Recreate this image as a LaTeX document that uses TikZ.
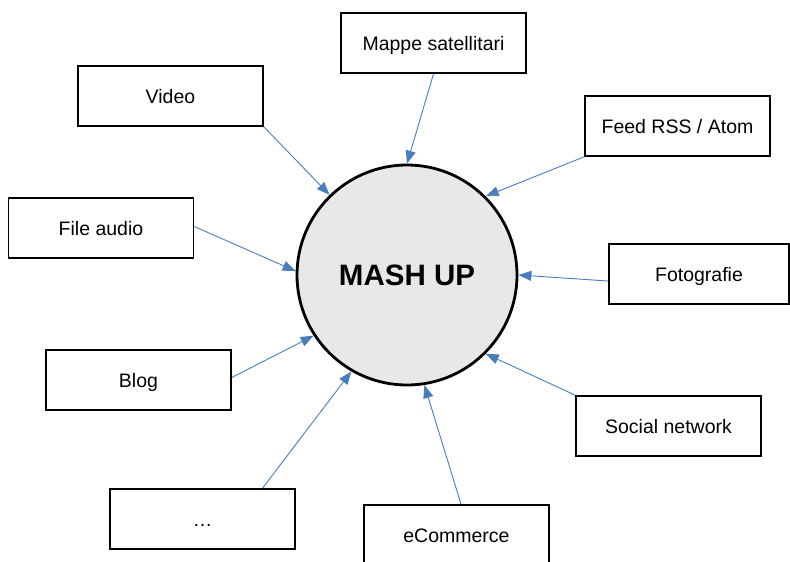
\documentclass[tikz,border=0pt]{standalone}
\usepackage{fontspec}
\setmainfont{Liberation Sans}
\usetikzlibrary{arrows.meta,calc}
\definecolor{arrowblue}{HTML}{4A7EBB}
\definecolor{hubfill}{HTML}{E8E8E8}
\tikzset{
  source/.style={draw=black, line width=1.6pt, fill=white, rectangle,
    minimum width=185pt, minimum height=60pt, inner sep=0pt,
    font=\fontsize{19.5}{23}\selectfont, text height=14pt, text depth=0pt},
  hub/.style={draw=black, line width=2.8pt, fill=hubfill, circle,
    minimum size=220pt, inner sep=0pt,
    font=\fontsize{29.5}{34}\selectfont\bfseries, text height=21pt, text depth=0pt},
  feed/.style={draw=arrowblue, line width=0.9pt,
    -{Triangle[length=13pt,width=10pt]}},
}
\begin{document}
\begin{tikzpicture}[x=1pt, y=-1pt]
  \useasboundingbox (0,0) rectangle (790,562);

  % central hub
  \node[hub] (mash) at (407,275) {MASH UP};

  % sources around the hub
  \node[source] (mappe)  at (433.5,43)  {Mappe satellitari};
  \node[source] (video)  at (170.5,96)  {Video};
  \node[source] (rss)    at (677.5,126) {Feed RSS / Atom};
  \node[source] (audio)  at (101,228)   {File audio};
  \node[source, minimum width=180pt] (foto) at (699,274) {Fotografie};
  \node[source] (blog)   at (138.5,380) {Blog};
  \node[source] (social) at (668.5,426) {Social network};
  \node[source] (dots)   at (202.5,519) {\dots};
  \node[source] (ecomm)  at (456.5,535) {eCommerce};

  % connectors into the hub
  \draw[feed] (mappe.south)        -- (mash.90);
  \draw[feed] (video.south east)   -- (mash.134.5);
  \draw[feed] (rss.south west)     -- (mash.45);
  \draw[feed] ($(audio.east)+(0,-1.5)$) -- (mash.178.8);
  \draw[feed] ($(foto.west)+(0,7)$) -- (mash.-0.5);
  \draw[feed] ($(blog.east)+(0,-2.5)$)  -- (mash.213.8);
  \draw[feed] (social.north west)  -- (mash.315);
  \draw[feed] ($(dots.north)+(60,0)$) -- (mash.240);
  \draw[feed] ($(ecomm.north)+(4.5,0)$) -- (mash.279);
\end{tikzpicture}
\end{document}
